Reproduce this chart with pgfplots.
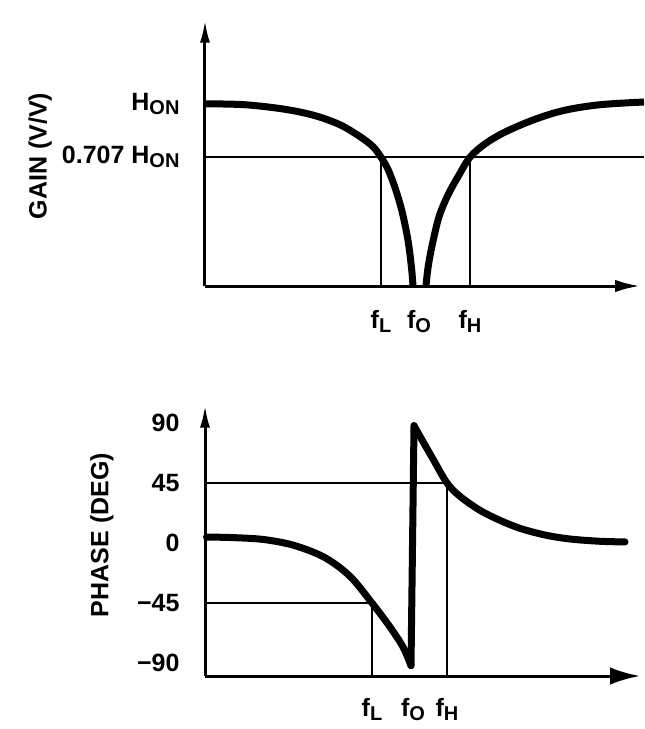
\documentclass[border=0pt]{standalone}
\usepackage{pgfplots}
\pgfplotsset{compat=1.18}
\usetikzlibrary{arrows.meta}
\usepackage{fontspec}
\setmainfont{Liberation Sans}
\newcommand{\sub}[1]{\raisebox{-0.3ex}{\footnotesize #1}}
\pgfplotsset{
  notch/.style={
    scale only axis, width=174pt, xmin=0, xmax=435,
    axis x line=bottom, axis y line=left,
    axis line style={line width=1.2pt},
    x axis line style={-{Latex[length=10pt,width=5pt]}},
    y axis line style={-{Latex[length=9pt,width=4pt]}},
    major tick length=0pt,
    clip=false,
    font=\fontsize{10}{12}\selectfont\bfseries,
    yticklabel style={anchor=east, inner sep=0pt, xshift=-10pt},
    xticklabel style={anchor=north, inner sep=0pt},
  },
  curve/.style={line width=2.8pt, smooth, tension=0.55, line cap=round, line join=round},
}
\begin{document}
\begin{tikzpicture}
\path[use as bounding box] (0,0) rectangle (257.6pt,-291.6pt);
% ---------------- Gain ----------------
\begin{axis}[notch,
  at={(82pt,-114.4pt)}, anchor=south west,
  height=106.4pt, ymin=0, ymax=1.46,
  xtick={176,214,265},
  xticklabels={f\sub{L}, f\sub{O}, f\sub{H}},
  xticklabel style={yshift=-9.6pt},
  ytick={0.707,1},
  yticklabels={0.707 H\sub{ON}, H\sub{ON}},
  ylabel={GAIN (V/V)},
  ylabel style={at={(axis description cs:-0.379,0.489)}, anchor=center},
]
\addplot[line width=0.6pt] coordinates {(0,0.707) (439,0.707)};
\addplot[line width=0.6pt] coordinates {(176,0.707) (176,0)};
\addplot[line width=0.6pt] coordinates {(265,0.707) (265,0)};
\addplot[curve, line cap=butt] coordinates {
  (0,1.0) (40,0.995) (80,0.97) (110,0.935) (135,0.885) (155,0.82)
  (168,0.765) (176,0.707) (183,0.64) (190,0.54) (197,0.41) (203,0.25)
  (206.5,0.1) (208,0.0)};
\addplot[curve, line cap=butt] coordinates {
  (221,0.0) (223,0.1) (227,0.22) (234,0.38) (243,0.5) (253,0.6)
  (265,0.707) (280,0.78) (300,0.845) (330,0.915) (360,0.965)
  (395,0.995) (439,1.01)};
\end{axis}
% ---------------- Phase ----------------
\begin{axis}[notch,
  at={(82pt,-270.4pt)}, anchor=south west,
  height=108.4pt, ymin=-99.75, ymax=103.5,
  xtick={167,208,242},
  xticklabels={f\sub{L}, f\sub{O}, f\sub{H}},
  xticklabel style={yshift=-8.8pt},
  x axis line style={-{Latex[length=12pt,width=7pt]}},
  ytick={-90,-45,0,45,90},
  yticklabels={−90, −45, 0, 45, 90},
  ylabel={PHASE (DEG)},
  ylabel style={at={(axis description cs:-0.237,0.52)}, anchor=center},
]
\addplot[line width=0.6pt] coordinates {(0,45) (242,45) (242,-99.75)};
\addplot[line width=0.6pt] coordinates {(0,-45) (167,-45) (167,-99.75)};
\addplot[curve] coordinates {
  (1.5,4.5) (30,4) (60,2.5) (90,-2) (120,-11) (145,-25)
  (167,-45) (185,-63) (198,-78) (206,-92)};
\addplot[line width=2.8pt, line cap=round] coordinates {(206,-92) (209,88)};
\addplot[curve] coordinates {
  (209,88) (218,76) (228,63) (242,45) (255,35) (275,24.5) (295,17)
  (315,11) (340,6) (365,3) (395,1.3) (420,0.8)};
\end{axis}
\end{tikzpicture}
\end{document}
